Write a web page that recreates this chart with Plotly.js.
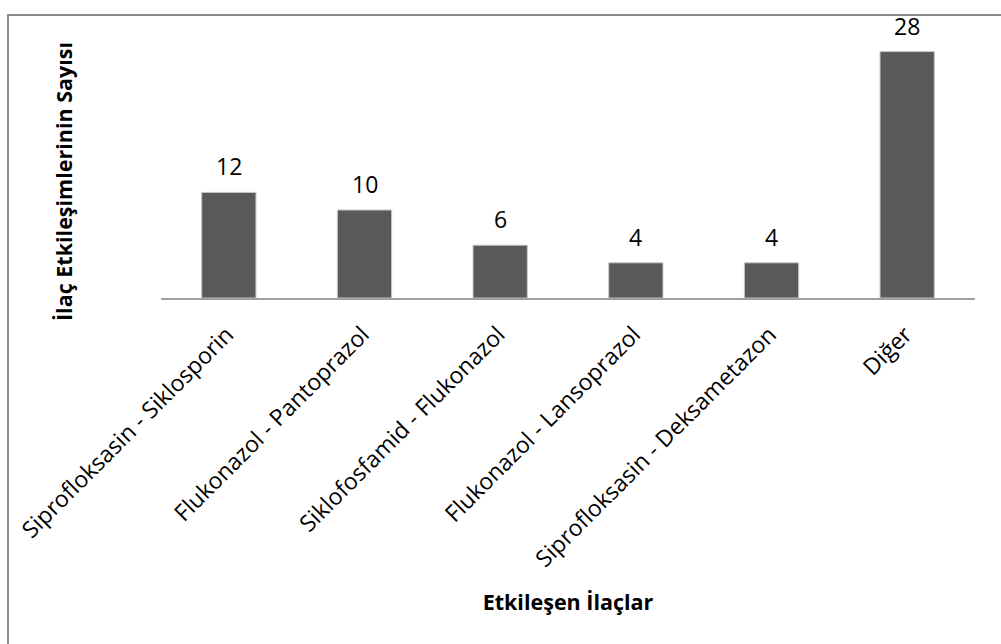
<!DOCTYPE html>
<html>
<head>
<meta charset="utf-8">
<script src="https://cdn.plot.ly/plotly-3.0.1.min.js"></script>
<style>
  html, body { margin: 0; padding: 0; background: #ffffff; }
  #chart { width: 1001px; height: 644px; }
</style>
</head>
<body>
<div id="chart"></div>
<script>
// Drug interaction pairs and how many interactions each one accounts for
const pairs = [
  "Siprofloksasin - Siklosporin",
  "Flukonazol - Pantoprazol",
  "Siklofosfamid - Flukonazol",
  "Flukonazol - Lansoprazol",
  "Siprofloksasin - Deksametazon",
  "Diğer"
];
const counts = [12, 10, 6, 4, 4, 28];

const xTitle = "Etkileşen İlaçlar";
const yTitle = "İlaç Etkileşimlerinin Sayısı";

const FONT = "'Open Sans', Lato, sans-serif";

// Pixel layout of the figure
const W = 1001, H = 644;
const M = { l: 161, r: 26, t: 34, b: 346 };
const plotW = W - M.l - M.r;
const plotH = H - M.t - M.b;
const px = x => (x - M.l) / plotW;          // pixel x -> paper x
const py = y => (H - M.b - y) / plotH;      // pixel y -> paper y

const trace = {
  type: "bar",
  x: pairs,
  y: counts,
  marker: { color: "#595959", line: { color: "#c8c8c8", width: 1 } },
  hoverinfo: "x+y"
};

// value labels above each bar
const valueLabels = pairs.map((p, i) => ({
  x: p, y: counts[i], xref: "x", yref: "y",
  text: String(counts[i]),
  showarrow: false, yanchor: "bottom", yshift: 8,
  font: { family: FONT, size: 23, color: "#000000" }
}));

const layout = {
  width: W, height: H,
  margin: M,
  paper_bgcolor: "#ffffff",
  plot_bgcolor: "#ffffff",
  showlegend: false,
  bargap: 0.6,
  xaxis: {
    type: "category",
    tickangle: -45,
    tickfont: { family: FONT, size: 23, color: "#000000" },
    ticklabelstandoff: 12,
    ticklabelshift: -2,
    showline: true, linecolor: "#a0a0a0", linewidth: 2,
    ticks: "", showgrid: false, zeroline: false,
    title: { text: xTitle, font: { family: FONT, size: 21.5, color: "#000000", weight: "bold" }, standoff: 22 }
  },
  yaxis: {
    range: [0, 30],
    visible: false,
    showgrid: false, zeroline: false
  },
  annotations: valueLabels.concat([
    {
      xref: "paper", yref: "paper",
      x: px(63), y: py(182),
      text: "<b>" + yTitle + "</b>",
      textangle: -90, showarrow: false,
      xanchor: "center", yanchor: "middle",
      font: { family: FONT, size: 21.5, color: "#000000" }
    }
  ]),
  shapes: [
    // chart frame
    {
      type: "rect", xref: "paper", yref: "paper",
      x0: px(8), x1: px(1012), y0: py(660), y1: py(15),
      line: { color: "#8c8c8c", width: 2 }, fillcolor: "rgba(0,0,0,0)", layer: "below"
    }
  ]
};

Plotly.newPlot("chart", [trace], layout, { displayModeBar: false, staticPlot: true });
</script>
</body>
</html>
